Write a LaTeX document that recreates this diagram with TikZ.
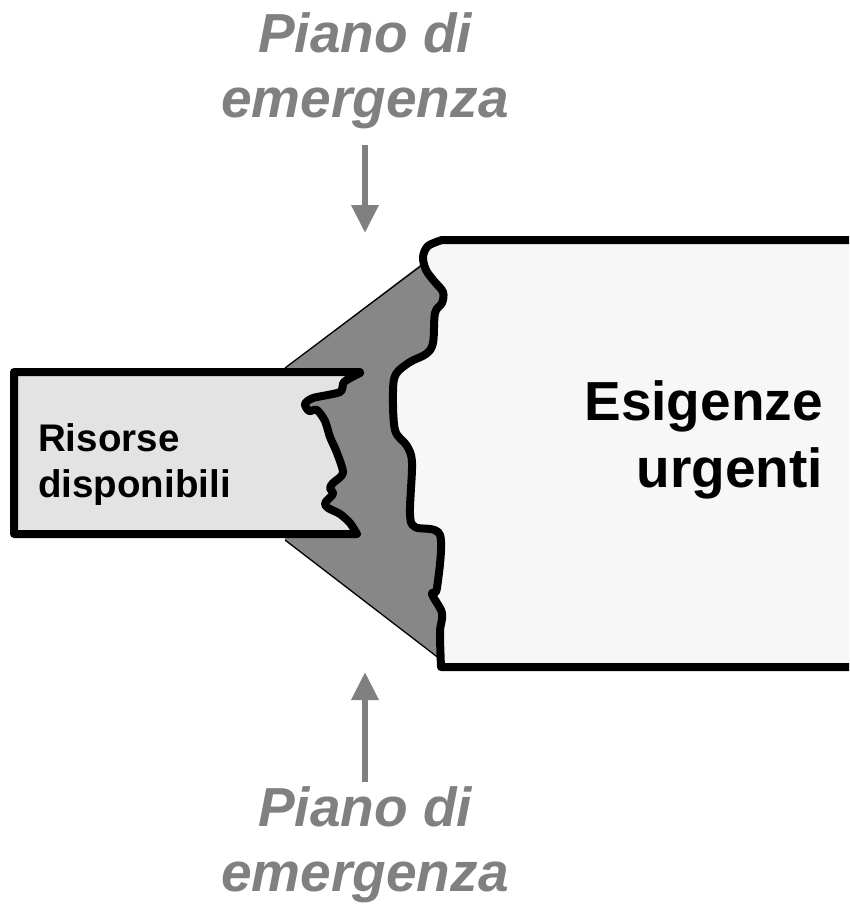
\documentclass[tikz,border=0pt]{standalone}
\usepackage{fontspec}
\setmainfont{Liberation Sans}
\usetikzlibrary{arrows.meta}
\definecolor{darkgr}{HTML}{878787}
\definecolor{lightgr}{HTML}{E3E3E3}
\definecolor{paleg}{HTML}{F7F7F7}
\definecolor{txtgr}{HTML}{808080}
\tikzset{
  thickedge/.style={draw=black, line width=8pt, line join=round, line cap=round},
  thinedge/.style={draw=black, line width=1.3pt},
  planarrow/.style={draw=txtgr, line width=6.5pt, -{Triangle[width=26pt,length=28pt]}},
  plantext/.style={text=txtgr, font=\fontsize{55}{65}\selectfont\bfseries\itshape, align=center, inner sep=0pt},
}
\begin{document}
\begin{tikzpicture}[x=1pt,y=-1pt]
\useasboundingbox (0,0) rectangle (849,904);
\clip (0,0) rectangle (849,904);
% dark wedge
\fill[darkgr] (285,368) -- (424,262) -- (470,262) -- (470,660) -- (438,657) -- (285,540) -- cycle;
\draw[thinedge] (285,368) -- (426,262);
\draw[thinedge] (285,540) -- (440,659);
% big box
\path[thickedge, fill=paleg] (870,240) -- (442,240)
  -- plot[smooth, tension=0.55] coordinates {(442,240) (428,246) (423,257) (426,270) (434,281) (443,292) (442,303) (435,313) (433,343) (426,354) (410,362) (396,374) (393,392) (395,430) (407,446) (412,463) (410,513) (415,527) (440,535) (437,588) (432,594) (442,613) (440,632) (441,667)}
  -- (870,667) -- cycle;
% small box
\path[thickedge, fill=lightgr] (14,372) -- (360,372)
  -- plot[smooth, tension=0.45] coordinates {(360,373) (344,382) (340,392) (313,398) (305,404) (309,411) (317,410) (325,421) (330,437) (337,453) (343,473) (333,483) (330,488) (333,494) (325,503) (328,508) (340,514) (350,523) (357,534)}
  -- (14,534) -- cycle;
% texts
\node[anchor=base west, inner sep=0pt, font=\fontsize{38.5}{46}\selectfont\bfseries, align=left] (res) at (38,497) {Risorse\\disponibili};
\node[anchor=base east, inner sep=0pt, font=\fontsize{55}{67}\selectfont\bfseries, align=right] (esi) at (823,487) {Esigenze\\urgenti};
\node[plantext, anchor=base] (ptop) at (365,118) {Piano di\\emergenza};
\node[plantext, anchor=base] (pbot) at (365,891) {Piano di\\emergenza};
\coordinate (ttip) at (365,233);
\coordinate (btip) at (365,672);
\draw[planarrow] (365,145) -- (ttip);
\draw[planarrow] (365,782) -- (btip);
\end{tikzpicture}
\end{document}
